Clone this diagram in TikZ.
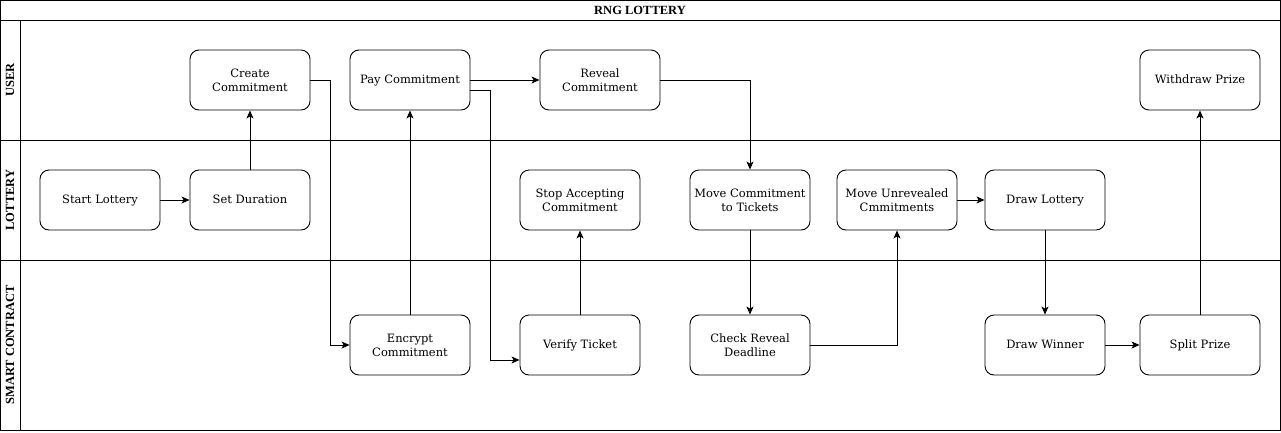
\documentclass[tikz,border=0pt]{standalone}
\usepackage{fontspec}
\setmainfont{DejaVu Serif}
\newfontfamily\lanefont{Liberation Serif}
\usetikzlibrary{arrows.meta}
\begin{document}
\begin{tikzpicture}[x=1pt,y=-1pt,
  box/.style={draw, line width=0.9pt, rounded corners=9pt, minimum width=120pt, minimum height=60pt, align=center, font=\fontsize{11.5}{14}\selectfont, inner sep=1pt},
  oneline/.style={box, text height=8.5pt, text depth=2.5pt},
  lane/.style={line width=1pt},
  lanelabel/.style={rotate=90, font=\lanefont\bfseries\fontsize{12.5}{14}\selectfont},
  conn/.style={line width=0.9pt, -{Stealth[length=8pt,width=7pt,inset=2pt]}}
]
\useasboundingbox (0,0) rectangle (1281,432);
% frame and lanes
\draw[lane] (0.5,0.5) rectangle (1280,430.5);
\draw[lane] (0.5,20) -- (1280,20);
\draw[lane] (0.5,140) -- (1280,140);
\draw[lane] (0.5,260) -- (1280,260);
\draw[lane] (20,20) -- (20,430.5);
\node[font=\lanefont\bfseries\fontsize{12.5}{14}\selectfont] (title) at (640,10) {RNG LOTTERY};
\node[lanelabel] (luser) at (10,80) {USER};
\node[lanelabel] (llot) at (10,200) {LOTTERY};
\node[lanelabel] (lsc) at (10,345) {SMART CONTRACT};
% boxes
\node[box] (create) at (250,80) {Create\\Commitment};
\node[oneline] (pay) at (410,80) {Pay Commitment};
\node[box] (reveal) at (600,80) {Reveal\\Commitment};
\node[oneline] (withdraw) at (1200,80) {Withdraw Prize};
\node[oneline] (start) at (100,200) {Start Lottery};
\node[oneline] (setdur) at (250,200) {Set Duration};
\node[box] (stop) at (580,200) {Stop Accepting\\Commitment};
\node[box] (move) at (750,200) {Move Commitment\\to Tickets};
\node[box] (unrev) at (897,200) {Move Unrevealed\\Cmmitments};
\node[oneline] (drawlot) at (1045,200) {Draw Lottery};
\node[box] (encrypt) at (410,345) {Encrypt\\Commitment};
\node[oneline] (verify) at (580,345) {Verify Ticket};
\node[box] (check) at (750,345) {Check Reveal\\Deadline};
\node[oneline] (winner) at (1045,345) {Draw Winner};
\node[oneline] (split) at (1200,345) {Split Prize};
% connectors
\draw[conn] (start) -- (setdur);
\draw[conn] (setdur) -- (create);
\draw[conn] (create.east) -| (330,345) -- (encrypt.west);
\draw[conn] (encrypt) -- (pay);
\draw[conn] (pay) -- (reveal);
\draw[conn] ([yshift=-10pt]pay.east) -| (490,360) -- ([yshift=-15pt]verify.west);
\draw[conn] (verify) -- (stop);
\draw[conn] (reveal.east) -| (move.north);
\draw[conn] (move) -- (check);
\draw[conn] (check.east) -| (unrev.south);
\draw[conn] (unrev) -- (drawlot);
\draw[conn] (drawlot) -- (winner);
\draw[conn] (winner) -- (split);
\draw[conn] (split) -- (withdraw);
\end{tikzpicture}
\end{document}
